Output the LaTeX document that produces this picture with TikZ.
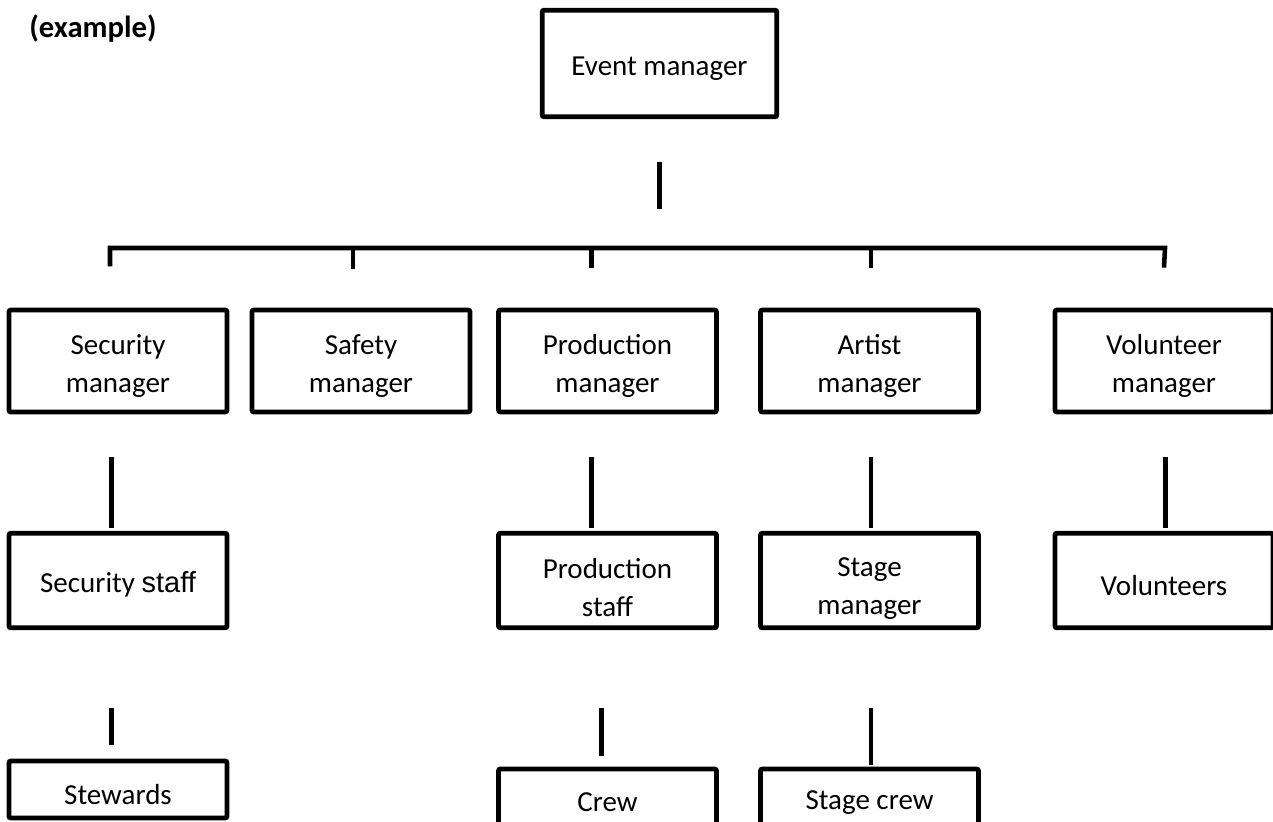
\documentclass[tikz,border=0pt]{standalone}
\usepackage{fontspec}
\setmainfont{Carlito}
\newfontfamily\arialfont{Liberation Sans}
\usepackage{tikz}

\begin{document}
\begin{tikzpicture}[
        x=0.75pt, y=-0.75pt,
        role/.style={rectangle, draw=black, line width=3.6pt, rounded corners=1.5pt, minimum width=163.5pt, minimum height=76.5pt, inner sep=0pt, text centered, align=center, font=\fontsize{21.75pt}{28.5pt}\selectfont, execute at begin node={\rule{0pt}{#1}}},
        role/.default=22pt,
        staff/.style={role=#1, minimum height=71pt},
        staff/.default=22pt,
        link/.style={line width=3.4pt}
    ]
        \useasboundingbox (0,0) rectangle (1273,821);

        % ========== TITLE ==========
        \node[font=\fontsize{23pt}{28pt}\selectfont\bfseries] (title) at (93,29) {(example)};

        % ========== TOP ==========
        \node[role, minimum width=176pt, minimum height=80pt] (event) at (659.5,63.5) {Event manager};

        % ========== MANAGERS ==========
        \node[role=51pt] (secmgr) at (118,361) {Security\\manager};
        \node[role=51pt] (safemgr) at (361,361) {Safety\\manager};
        \node[role=51pt] (prodmgr) at (607.5,361) {Production\\manager};
        \node[role=51pt] (artmgr) at (869.5,361) {Artist\\manager};
        \node[role=51pt] (volmgr) at (1164,361) {Volunteer\\manager};

        % ========== STAFF ==========
        \node[staff] (secstaff) at (118,580.5) {Security {\arialfont staff}};
        \node[staff=54pt] (prodstaff) at (607.5,580.5) {Production\\staff};
        \node[staff=54pt] (stagemgr) at (869.5,580.5) {Stage\\manager};
        \node[staff] (volunteers) at (1164,580.5) {Volunteers};

        % ========== CREW ==========
        \node[role, minimum height=42.75pt] (stewards) at (118,789.5) {Stewards};
        \node[role, minimum height=42pt] (crew) at (607.5,797) {Crew};
        \node[role, minimum height=42pt] (stagecrew) at (869.5,797) {Stage crew};

        % ========== BRACKET ==========
        \draw[link] ([yshift=-32pt]event.south) -- ([yshift=-67.5pt]event.south);
        \coordinate (barR) at (1165,248);
        \draw[link] ([xshift=-6pt,yshift=31pt]secmgr.north) |- (barR) -- ([yshift=30pt]volmgr.north);
        \draw[link] ([xshift=-6pt]safemgr.north |- barR) -- ([xshift=-6pt,yshift=29pt]safemgr.north);
        \draw[link] ([xshift=-12pt]prodmgr.north |- barR) -- ([xshift=-12pt,yshift=30pt]prodmgr.north);
        \draw[link] ([xshift=1pt]artmgr.north |- barR) -- ([xshift=1pt,yshift=30pt]artmgr.north);

        % ========== MANAGERS TO STAFF ==========
        \draw[link] ([xshift=-5pt,yshift=-32pt]secmgr.south) -- ([xshift=-5pt,yshift=2pt]secstaff.north);
        \draw[link] ([xshift=-12pt,yshift=-32pt]prodmgr.south) -- ([xshift=-12pt,yshift=2pt]prodstaff.north);
        \draw[link] ([xshift=1pt,yshift=-32pt]artmgr.south) -- ([xshift=1pt,yshift=2pt]stagemgr.north);
        \draw[link] ([xshift=1pt,yshift=-32pt]volmgr.south) -- ([xshift=1pt,yshift=2pt]volunteers.north);

        % ========== STAFF TO CREW ==========
        \draw[link] ([xshift=-5pt,yshift=-58pt]secstaff.south) -- ([xshift=-5pt,yshift=10pt]stewards.north);
        \draw[link] ([xshift=-4.5pt,yshift=-58pt]prodstaff.south) -- ([xshift=-4.5pt,yshift=8pt]crew.north);
        \draw[link] ([xshift=1pt,yshift=-58pt]stagemgr.south) -- ([xshift=1pt,yshift=1pt]stagecrew.north);

    \end{tikzpicture}
\end{document}
